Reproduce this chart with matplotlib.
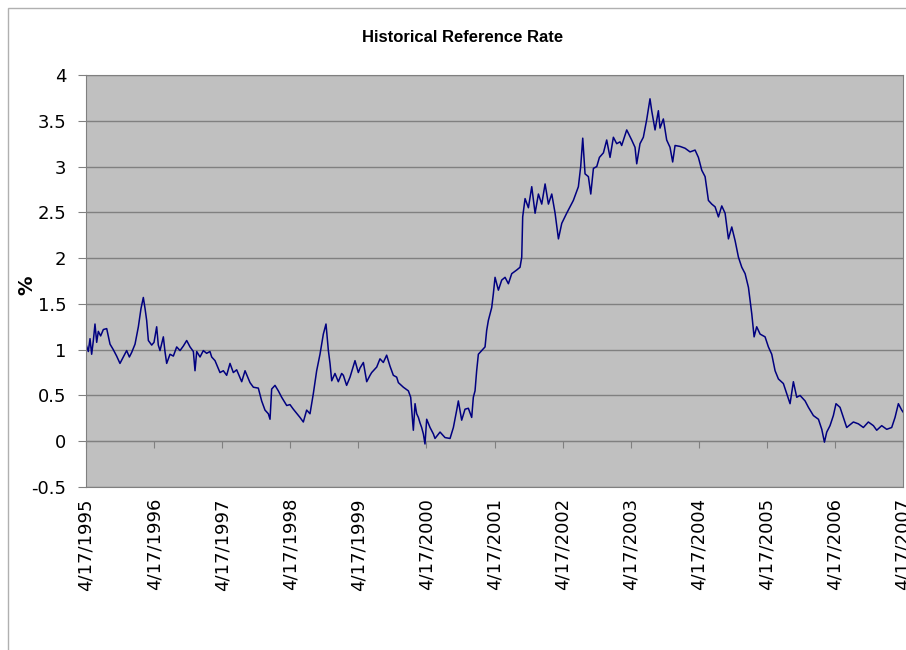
import matplotlib
matplotlib.use("Agg")
import matplotlib.pyplot as plt
from matplotlib.patches import Rectangle

# years elapsed since 4/17/1995, and the rate in %
years = [
    0.000, 0.034, 0.059, 0.083, 0.108, 0.132, 0.157, 0.181, 0.215, 0.255,
    0.304, 0.353, 0.401, 0.450, 0.499, 0.548, 0.597, 0.637, 0.671, 0.720,
    0.769, 0.808, 0.842, 0.867, 0.891, 0.916, 0.965, 0.999, 1.038, 1.062,
    1.087, 1.136, 1.160, 1.185, 1.234, 1.283, 1.332, 1.381, 1.430, 1.479,
    1.528, 1.577, 1.601, 1.626, 1.675, 1.723, 1.772, 1.821, 1.846, 1.895,
    1.968, 2.017, 2.066, 2.115, 2.164, 2.213, 2.287, 2.336, 2.409, 2.458,
    2.531, 2.580, 2.629, 2.678, 2.703, 2.727, 2.776, 2.825, 2.874, 2.948,
    2.996, 3.045, 3.143, 3.192, 3.241, 3.290, 3.339, 3.388, 3.437, 3.486,
    3.525, 3.560, 3.584, 3.609, 3.657, 3.706, 3.755, 3.780, 3.828, 3.878,
    3.951, 4.000,
    4.025, 4.074, 4.123, 4.172, 4.196, 4.270, 4.318, 4.367, 4.416, 4.465,
    4.514, 4.563, 4.588, 4.661, 4.735, 4.769, 4.784, 4.808, 4.833, 4.857,
    4.882, 4.906, 4.930, 4.955, 4.979, 5.004, 5.053, 5.102, 5.126, 5.200,
    5.273, 5.347, 5.396, 5.445, 5.469, 5.518, 5.567, 5.616, 5.665, 5.689,
    5.714, 5.738, 5.763, 5.812, 5.861, 5.885, 5.910, 5.959, 5.983, 6.008,
    6.057, 6.106, 6.155, 6.204, 6.253, 6.326, 6.375, 6.400, 6.414, 6.449,
    6.498, 6.547, 6.596, 6.645, 6.694, 6.743, 6.792, 6.841, 6.890, 6.939,
    6.988, 7.060, 7.158, 7.232, 7.266, 7.296, 7.330, 7.379, 7.414, 7.453,
    7.502, 7.541, 7.600, 7.648, 7.697, 7.746, 7.795, 7.844,
    7.868, 7.942, 8.015, 8.064, 8.089, 8.137, 8.186, 8.235, 8.284, 8.309,
    8.358, 8.407, 8.431, 8.480, 8.529, 8.578, 8.617, 8.652, 8.725, 8.799,
    8.872, 8.946, 8.995, 9.044, 9.093, 9.142, 9.191, 9.240, 9.289, 9.338,
    9.387, 9.436, 9.485, 9.534, 9.583, 9.632, 9.681, 9.730, 9.779, 9.813,
    9.851, 9.901, 9.974, 10.023, 10.072, 10.121, 10.170, 10.243, 10.292, 10.341,
    10.390, 10.439, 10.488, 10.562, 10.611, 10.684, 10.758, 10.807, 10.846, 10.880,
    10.928, 10.977, 11.016, 11.075, 11.124, 11.173, 11.271, 11.344, 11.418, 11.491,
    11.565, 11.614, 11.687, 11.761, 11.834, 11.883, 11.932, 11.981, 12.000,
]
rate = [
    1.06, 0.98, 1.12, 0.95, 1.10, 1.28, 1.08, 1.20, 1.15, 1.22,
    1.23, 1.06, 1.00, 0.93, 0.85, 0.92, 0.99, 0.92, 0.97, 1.06,
    1.25, 1.45, 1.57, 1.45, 1.32, 1.10, 1.05, 1.08, 1.25, 1.05,
    0.99, 1.14, 0.98, 0.85, 0.95, 0.93, 1.03, 0.99, 1.04, 1.10,
    1.03, 0.98, 0.77, 0.98, 0.92, 0.99, 0.96, 0.98, 0.92, 0.88,
    0.75, 0.77, 0.72, 0.85, 0.75, 0.78, 0.65, 0.77, 0.64, 0.59,
    0.58, 0.44, 0.34, 0.30, 0.24, 0.57, 0.61, 0.55, 0.48, 0.39,
    0.40, 0.35, 0.26, 0.21, 0.34, 0.30, 0.52, 0.77, 0.95, 1.17,
    1.28, 0.99, 0.85, 0.66, 0.74, 0.65, 0.74, 0.72, 0.61, 0.70,
    0.88, 0.75,
    0.80, 0.86, 0.65, 0.72, 0.75, 0.81, 0.90, 0.86, 0.94, 0.82,
    0.72, 0.70, 0.64, 0.59, 0.55, 0.48, 0.34, 0.12, 0.41, 0.30,
    0.26, 0.20, 0.15, 0.08, -0.03, 0.24, 0.15, 0.08, 0.03, 0.10,
    0.04, 0.03, 0.15, 0.34, 0.44, 0.23, 0.35, 0.36, 0.26, 0.48,
    0.55, 0.77, 0.95, 0.99, 1.03, 1.21, 1.32, 1.46, 1.61, 1.79,
    1.65, 1.76, 1.79, 1.72, 1.83, 1.87, 1.90, 2.01, 2.45, 2.65,
    2.55, 2.78, 2.49, 2.70, 2.59, 2.81, 2.59, 2.70, 2.49, 2.21,
    2.38, 2.49, 2.63, 2.78, 3.00, 3.31, 2.92, 2.89, 2.70, 2.98,
    3.00, 3.10, 3.15, 3.29, 3.10, 3.32, 3.25, 3.27,
    3.23, 3.40, 3.29, 3.21, 3.03, 3.25, 3.32, 3.51, 3.74, 3.61,
    3.40, 3.61, 3.42, 3.52, 3.29, 3.21, 3.05, 3.23, 3.22, 3.20,
    3.16, 3.18, 3.10, 2.96, 2.89, 2.63, 2.59, 2.56, 2.45, 2.57,
    2.49, 2.21, 2.34, 2.19, 2.01, 1.90, 1.83, 1.68, 1.39, 1.14,
    1.25, 1.17, 1.14, 1.03, 0.95, 0.77, 0.68, 0.63, 0.52, 0.41,
    0.65, 0.48, 0.50, 0.44, 0.37, 0.28, 0.24, 0.13, -0.01, 0.10,
    0.17, 0.28, 0.41, 0.37, 0.26, 0.15, 0.21, 0.19, 0.15, 0.21,
    0.17, 0.12, 0.17, 0.13, 0.15, 0.26, 0.41, 0.34, 0.32,
]
tick_labels = ["4/17/%d" % y for y in range(1995, 2008)]
y_ticks = [-0.5, 0, 0.5, 1, 1.5, 2, 2.5, 3, 3.5, 4]
y_labels = ["-0.5", "0", "0.5", "1", "1.5", "2", "2.5", "3", "3.5", "4"]

fig = plt.figure(figsize=(9.06, 6.5), dpi=100)
ax = fig.add_axes([86 / 906, 1 - 487 / 650, 817 / 906, 412 / 650])

# chart area frame (light grey, runs off the right/bottom edge)
fig.patches.append(Rectangle((8 / 906, -0.1), 1.2, 1 - 8 / 650 + 0.1,
                             transform=fig.transFigure, fill=False,
                             edgecolor="#b0b0b0", linewidth=1))

ax.set_facecolor("#c0c0c0")
ax.plot(years, rate, color="#000080", linewidth=1.1)

ax.set_xlim(0, 12)
ax.set_ylim(-0.5, 4)
ax.set_yticks(y_ticks, labels=y_labels)
ax.set_xticks(range(13), labels=tick_labels, rotation=90)
ax.yaxis.grid(True, color="#808080", linewidth=1)
ax.set_axisbelow(True)

for s in ax.spines.values():
    s.set_color("#808080")
ax.tick_params(axis="y", length=6, color="#808080", pad=8, labelsize=13)
ax.tick_params(axis="x", length=0, pad=8, labelsize=13)

# the category axis crosses at y = 0, ticks hang below it
sec = ax.secondary_xaxis(0.5 / 4.5)
sec.set_xticks(range(13), labels=[""] * 13)
sec.tick_params(length=5, color="#808080")
sec.spines["bottom"].set_color("#808080")

fig.text(463 / 906, 1 - 38 / 650, "Historical Reference Rate",
         ha="center", va="center", fontsize=12, fontweight="bold",
         family="Liberation Sans")
fig.text(27 / 906, 1 - 285 / 650, "%", ha="center", va="center",
         fontsize=14, fontweight="bold", rotation=90)

fig.savefig("out.png", dpi=100)
